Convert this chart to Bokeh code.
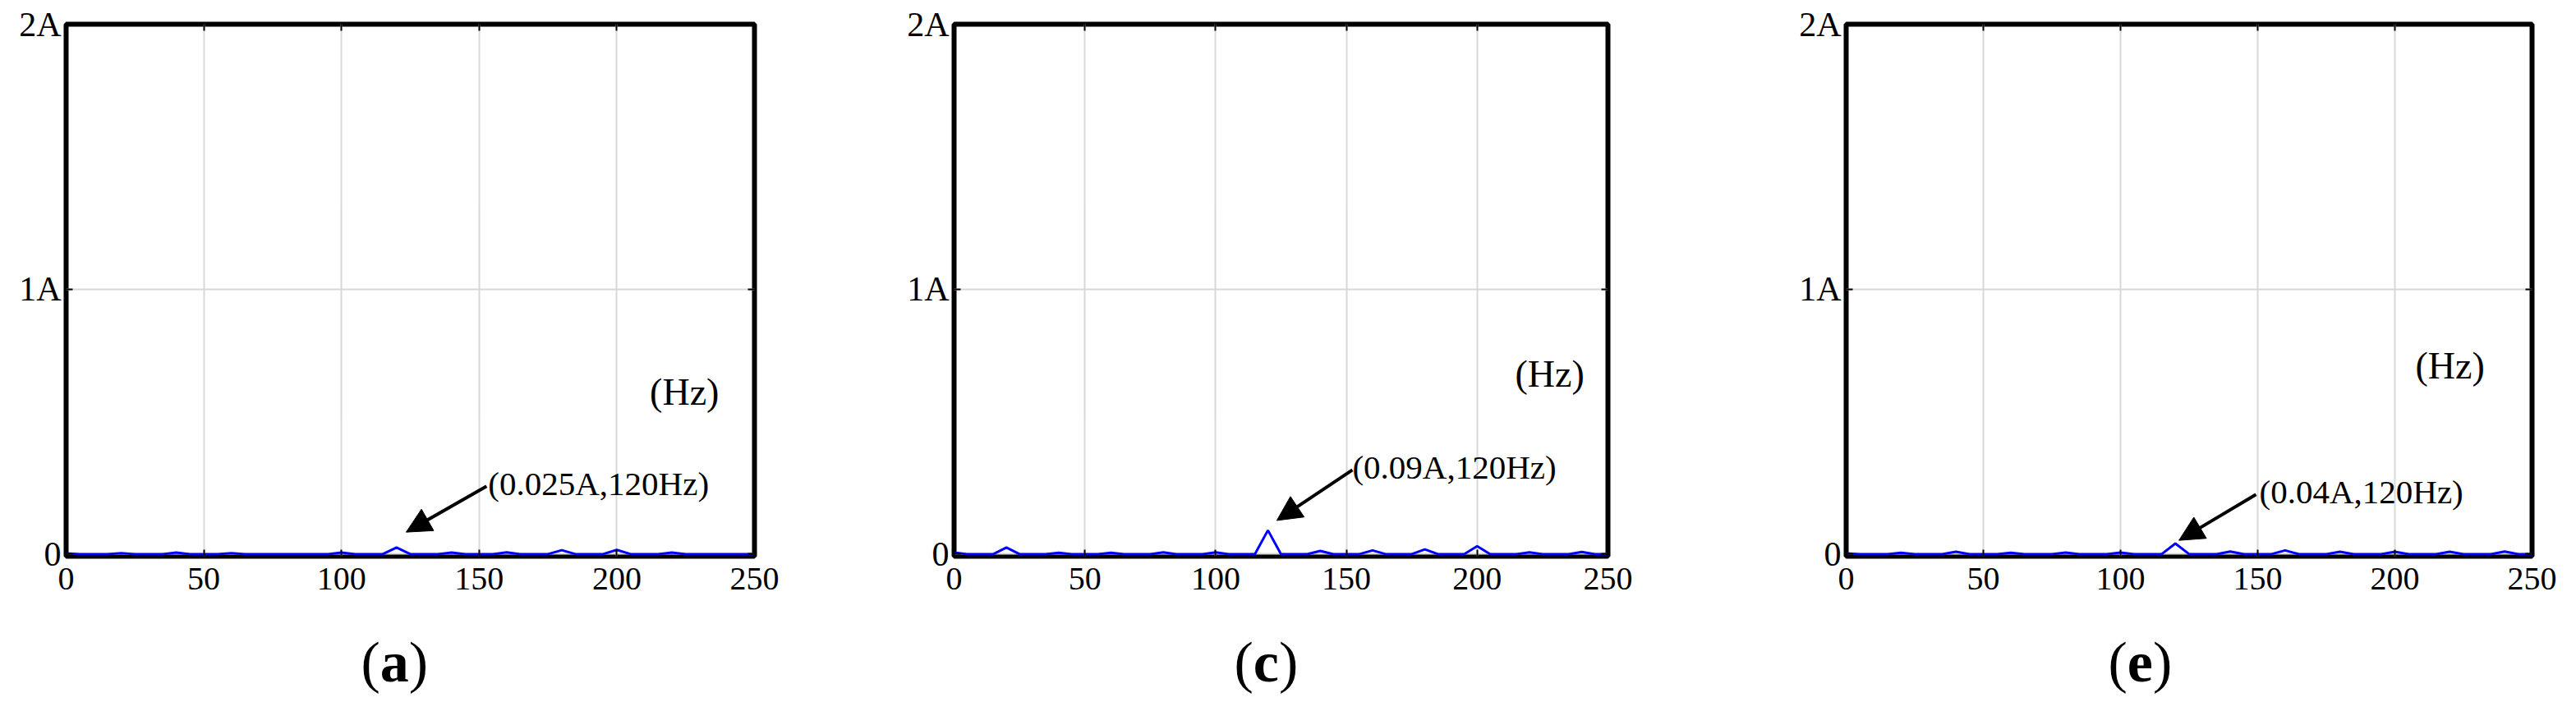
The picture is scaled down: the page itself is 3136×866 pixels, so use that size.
from bokeh.plotting import figure
from bokeh.layouts import row, column
from bokeh.models import Range1d, FixedTicker, LinearAxis, Label, Arrow, NormalHead
from bokeh.embed import file_html
from bokeh.resources import INLINE

# ---------------- data ----------------
freq = [0, 5, 10, 15, 20, 25, 30, 35, 40, 45,
        50, 55, 60, 65, 70, 75, 80, 85, 90, 95,
        100, 105, 110, 115, 120, 125, 130, 135, 140, 145,
        150, 155, 160, 165, 170, 175, 180, 185, 190, 195,
        200, 205, 210, 215, 220, 225, 230, 235, 240, 245, 250]

amp_a = [0.003, 0, 0, 0, 0.004, 0, 0, 0, 0.006, 0,
         0, 0, 0.004, 0, 0, 0, 0, 0, 0, 0,
         0.006, 0, 0, 0, 0.025, 0, 0, 0, 0.006, 0,
         0, 0, 0.007, 0, 0, 0, 0.015, 0, 0, 0,
         0.016, 0, 0, 0, 0.006, 0, 0, 0, 0, 0, 0]

amp_c = [0.006, 0, 0, 0, 0.025, 0, 0, 0, 0.005, 0,
         0, 0, 0.005, 0, 0, 0, 0.007, 0, 0, 0,
         0.007, 0, 0, 0, 0.09, 0, 0, 0, 0.012, 0,
         0, 0, 0.014, 0, 0, 0, 0.018, 0, 0, 0,
         0.03, 0, 0, 0, 0.007, 0, 0, 0, 0.008, 0, 0]

amp_e = [0.003, 0, 0, 0, 0.005, 0, 0, 0, 0.009, 0,
         0, 0, 0.005, 0, 0, 0, 0.006, 0, 0, 0,
         0.006, 0, 0, 0, 0.04, 0, 0, 0, 0.01, 0,
         0, 0, 0.014, 0, 0, 0, 0.009, 0, 0, 0,
         0.009, 0, 0, 0, 0.009, 0, 0, 0, 0.01, 0, 0]

x_ticks = [0, 50, 100, 150, 200, 250]
y_ticks = [0, 1, 2]
y_tick_labels = {0: "0", 1: "1A", 2: "2A"}

peak_labels = ["(0.025A,120Hz)", "(0.09A,120Hz)", "(0.04A,120Hz)"]
panel_letters = ["a", "c", "e"]
unit_label = "(Hz)"

FONT = "Liberation Serif"
H = 760
TOP = 29
FRAME_H = 648


def make_panel(amp, width, left, frame_w, peak_text, cfg):
    right = width - left - frame_w
    p = figure(width=width, height=H, output_backend="svg", toolbar_location=None,
               x_range=Range1d(0, 250), y_range=Range1d(-0.008, 2.0),
               min_border_left=left, min_border_right=right,
               min_border_top=TOP, min_border_bottom=H - TOP - FRAME_H,
               background_fill_color="white", border_fill_color="white")
    p.outline_line_color = "black"
    p.outline_line_width = 6

    for ax in (p.xaxis[0], p.yaxis[0]):
        ax.axis_line_color = None
        ax.major_tick_in = 8
        ax.major_tick_out = 0
        ax.major_tick_line_color = "black"
        ax.major_tick_line_width = 2
        ax.minor_tick_line_color = None
        ax.major_label_text_font = FONT
        ax.major_label_text_color = "black"
    p.xaxis[0].ticker = FixedTicker(ticks=x_ticks)
    p.xaxis[0].major_label_text_font_size = "40px"
    p.xaxis[0].major_label_standoff = 14
    p.yaxis[0].ticker = FixedTicker(ticks=y_ticks)
    p.yaxis[0].major_label_overrides = y_tick_labels
    p.yaxis[0].major_label_text_font_size = "42px"
    p.yaxis[0].major_label_standoff = 6

    # inner ticks on the top and right sides (minor ticks only, no labels)
    top_ax = LinearAxis(ticker=FixedTicker(ticks=[], minor_ticks=x_ticks),
                        axis_line_color=None, major_tick_line_color=None,
                        minor_tick_in=8, minor_tick_out=0, minor_tick_line_width=2,
                        minor_tick_line_color="black")
    right_ax = LinearAxis(ticker=FixedTicker(ticks=[], minor_ticks=y_ticks),
                          axis_line_color=None, major_tick_line_color=None,
                          minor_tick_in=8, minor_tick_out=0, minor_tick_line_width=2,
                          minor_tick_line_color="black")
    p.add_layout(top_ax, "above")
    p.add_layout(right_ax, "right")

    p.xgrid.ticker = FixedTicker(ticks=x_ticks)
    p.ygrid.ticker = FixedTicker(ticks=y_ticks)
    p.grid.grid_line_color = "#d8d8d8"
    p.grid.grid_line_width = 2

    p.line(freq, amp, line_color="#0000ff", line_width=3)

    p.add_layout(Arrow(end=NormalHead(size=30, fill_color="black", line_color="black"),
                       x_start=cfg["tail"][0], y_start=cfg["tail"][1],
                       x_end=cfg["head"][0], y_end=cfg["head"][1],
                       line_color="black", line_width=4))
    p.add_layout(Label(x=cfg["txt"][0], y=cfg["txt"][1], text=peak_text,
                       text_font=FONT, text_font_size="41px", text_color="black",
                       text_align="left", text_baseline="top"))
    p.add_layout(Label(x=cfg["hz"][0], y=cfg["hz"][1], text=unit_label,
                       text_font=FONT, text_font_size="46px", text_color="black",
                       text_align="left", text_baseline="top"))
    return p


cfg_a = {"tail": (152.7, 0.256), "head": (123.5, 0.083), "txt": (153.3, 0.336),
         "hz": (212.0, 0.69)}
cfg_c = {"tail": (152.3, 0.318), "head": (123.4, 0.127), "txt": (152.3, 0.398),
         "hz": (214.5, 0.76)}
cfg_e = {"tail": (149.4, 0.225), "head": (121.3, 0.052), "txt": (150.6, 0.306),
         "hz": (207.5, 0.79)}

pa = make_panel(amp_a, 1100, 80, 838, peak_labels[0], cfg_a)
pc = make_panel(amp_c, 1080, 61, 796, peak_labels[1], cfg_c)
pe = make_panel(amp_e, 948, 67, 835, peak_labels[2], cfg_e)

# ---------------- captions (a), (c), (e) ----------------
CAP_W = 3128
CAP_H = 96
cap = figure(width=CAP_W, height=CAP_H, output_backend="svg", toolbar_location=None,
             x_range=Range1d(0, CAP_W), y_range=Range1d(0, CAP_H),
             min_border=0, min_border_left=0, min_border_right=0,
             min_border_top=0, min_border_bottom=0)
cap.grid.visible = False
cap.outline_line_color = None
cap.xaxis.visible = False
cap.yaxis.visible = False

fs = 70
cap_left = [439, 1502, 2566]
cap_y = 50
letter_w = {"a": 0.5, "c": 0.444, "e": 0.444}
for x0, letter in zip(cap_left, panel_letters):
    cap.add_layout(Label(x=x0, y=cap_y, text="(", text_font=FONT, text_font_size=f"{fs}px",
                         text_align="left", text_baseline="alphabetic", text_color="black"))
    cap.add_layout(Label(x=x0 + 0.333 * fs, y=cap_y, text=letter, text_font=FONT,
                         text_font_size=f"{fs}px", text_font_style="bold",
                         text_align="left", text_baseline="alphabetic", text_color="black"))
    cap.add_layout(Label(x=x0 + (0.333 + letter_w[letter]) * fs, y=cap_y, text=")",
                         text_font=FONT, text_font_size=f"{fs}px", text_align="left",
                         text_baseline="alphabetic", text_color="black"))

layout = column(row(pa, pc, pe, spacing=0), cap, spacing=0)
open("out.html", "w").write(file_html(layout, INLINE))
